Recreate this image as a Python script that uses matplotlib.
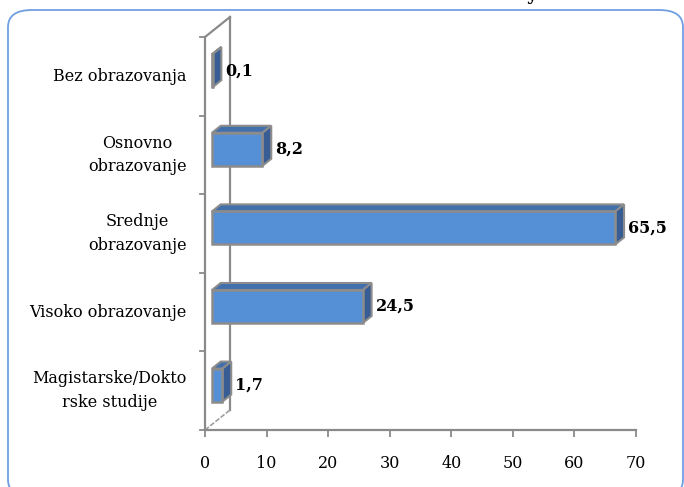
import matplotlib
matplotlib.use('Agg')
from matplotlib import pyplot as plt
import matplotlib.patches as mpatches
from matplotlib.patches import Polygon, FancyBboxPatch

# data (top to bottom as shown)
categories = ['Bez obrazovanja', 'Osnovno\nobrazovanje', 'Srednje\nobrazovanje',
              'Visoko obrazovanje', 'Magistarske/Dokto\nrske studije']
values = [0.1, 8.2, 65.5, 24.5, 1.7]
value_labels = ['0,1', '8,2', '65,5', '24,5', '1,7']
xticks = [0, 10, 20, 30, 40, 50, 60, 70]

FONT = 'DejaVu Serif'
front_col = '#5590d6'
top_col = '#4270ad'
side_col = '#375d94'
edge_col = '#8c8c8c'
axis_col = '#8a8a8a'

fig = plt.figure(figsize=(6.84, 4.87), dpi=100)

# rounded chart border
border = FancyBboxPatch((8 / 684, -0.02), 675 / 684, (487 - 10) / 487 + 0.02,
                        boxstyle='round,pad=0,rounding_size=0.035',
                        transform=fig.transFigure, fc='none', ec='#6f9fe0', lw=1.3)
fig.patches.append(border)

# cut-off title descender
fig.text(531 / 684, 1.0, 'y', fontsize=13, fontweight='bold', family=FONT,
         ha='center', va='baseline', transform=fig.transFigure)

ax = fig.add_axes([205 / 684, 57 / 487, 431 / 684, 393 / 487])
ax.set_xlim(0, 70)
ax.set_ylim(0, 5)
ax.patch.set_visible(False)
for s in ['top', 'right', 'left']:
    ax.spines[s].set_visible(False)
ax.spines['bottom'].set_color(axis_col)
ax.spines['bottom'].set_linewidth(1.6)

# depth of the chart walls in data units
DX = 70 * 25 / 431
DY = 5 * 20 / 393
d0, d1 = 0.28, 0.63
h = 0.42

# walls
wall_kw = dict(color=axis_col, lw=1.6, clip_on=False, zorder=1)
ax.plot([0, 0], [0, 5], **wall_kw)
ax.plot([DX, DX], [DY, 5 + DY], **wall_kw)
ax.plot([0, DX], [5, 5 + DY], **wall_kw)
ax.plot([0, DX], [0, DY], color='#a0a0a0', lw=1.2, ls=(0, (3, 1)), clip_on=False, zorder=1)
for yb in range(6):
    ax.plot([-0.8, 0], [yb, yb], color=axis_col, lw=1.3, clip_on=False, zorder=1)

# 3d bars
n = len(values)
for i, v in enumerate(values):
    c = n - i - 0.5
    x0 = d0 * DX
    x1 = v + d0 * DX
    yb = c - h / 2 + d0 * DY
    yt = c + h / 2 + d0 * DY
    ddx = (d1 - d0) * DX
    ddy = (d1 - d0) * DY
    top = Polygon([(x0, yt), (x1, yt), (x1 + ddx, yt + ddy), (x0 + ddx, yt + ddy)],
                  closed=True, fc=top_col, ec=edge_col, lw=1.5, zorder=3, clip_on=False)
    side = Polygon([(x1, yb), (x1 + ddx, yb + ddy), (x1 + ddx, yt + ddy), (x1, yt)],
                   closed=True, fc=side_col, ec=edge_col, lw=1.5, zorder=3, clip_on=False)
    front = mpatches.Rectangle((x0, yb), x1 - x0, yt - yb, fc=front_col, ec=edge_col,
                               lw=1.8, zorder=4, clip_on=False)
    ax.add_patch(top)
    ax.add_patch(side)
    ax.add_patch(front)
    ax.annotate(value_labels[i], (x1 + ddx, c + d0 * DY), xytext=(3, 0),
                textcoords='offset points', ha='left', va='center',
                fontsize=11.5, fontweight='bold', family=FONT, zorder=5)

ax.set_xticks(xticks)
ax.set_xticklabels([str(t) for t in xticks], family=FONT, fontsize=11.5)
ax.tick_params(axis='x', length=5, width=1.3, color=axis_col, pad=13)
ax.set_yticks([])

for i, lab in enumerate(categories):
    c = n - i - 0.5
    ax.annotate(lab, (0, c), xytext=(-13, 0), textcoords='offset points',
                ha='right', va='center', multialignment='center',
                family=FONT, fontsize=11.5, linespacing=1.5)

fig.savefig('out.png', dpi=100)
